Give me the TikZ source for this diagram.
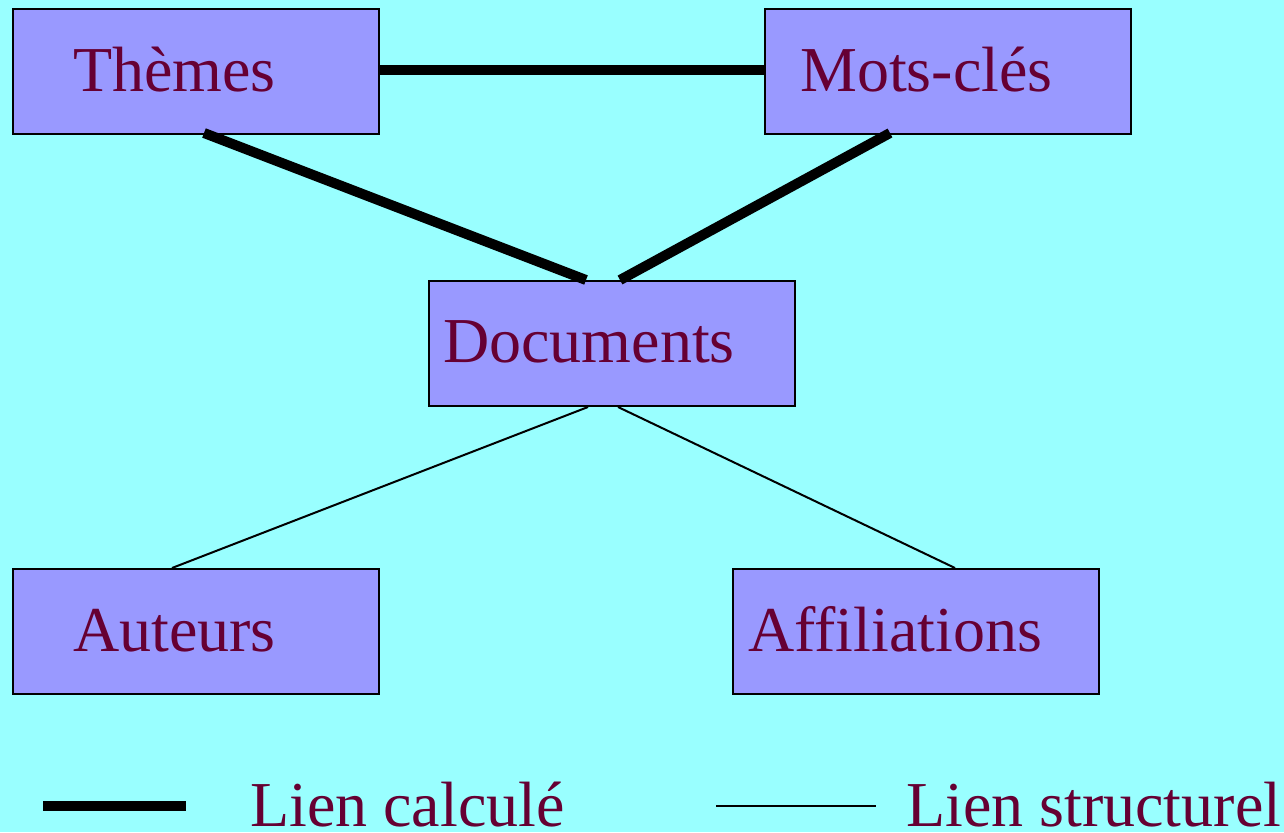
\documentclass[tikz,border=0pt]{standalone}
\usepackage{fontspec}
\setmainfont{Liberation Serif}
\definecolor{bgcyan}{HTML}{99FFFF}
\definecolor{boxblue}{HTML}{9999FF}
\definecolor{textwine}{HTML}{660033}
\begin{document}
\begin{tikzpicture}[x=1pt,y=-1pt,
  entity/.style={draw=black, line width=2pt, fill=boxblue, minimum width=366pt,
    minimum height=125pt, inner sep=0pt, anchor=north west},
  lbl/.style={text=textwine, font=\fontsize{64}{70}\selectfont, inner sep=0pt, anchor=base west},
  computed/.style={line width=10pt},
  structural/.style={line width=2pt}]
  % background and page size
  \fill[bgcyan] (0,0) rectangle (1284,832);
  \useasboundingbox (0,0) rectangle (1284,832);

  % entity boxes
  \node[entity] (themes) at (12,8) {};
  \node[entity] (mots) at (764,8) {};
  \node[entity] (docs) at (428,280) {};
  \node[entity] (auteurs) at (12,568) {};
  \node[entity] (affil) at (732,568) {};

  % entity names
  \node[lbl] (themesT) at ([xshift=61pt,yshift=-84pt]themes.north west) {Thèmes};
  \node[lbl] (motsT) at ([xshift=36pt,yshift=-84pt]mots.north west) {Mots-clés};
  \node[lbl] (docsT) at ([xshift=15pt,yshift=-82pt]docs.north west) {Documents};
  \node[lbl] (auteursT) at ([xshift=61pt,yshift=-83pt]auteurs.north west) {Auteurs};
  \node[lbl] (affilT) at ([xshift=16pt,yshift=-83pt]affil.north west) {Affiliations};

  % computed links
  \draw[computed] ([yshift=-62pt]themes.north east) -- ([yshift=-62pt]mots.north west);
  \draw[computed] ([xshift=192pt,yshift=2pt]themes.south west) -- ([xshift=158pt]docs.north west);
  \draw[computed] ([xshift=126pt,yshift=2pt]mots.south west) -- ([xshift=192pt]docs.north west);

  % structural links
  \draw[structural] ([xshift=160pt]docs.south west) -- ([xshift=160pt]auteurs.north west);
  \draw[structural] ([xshift=190pt]docs.south west) -- ([xshift=223pt]affil.north west);

  % legend
  \coordinate (lgA1) at (43,806);
  \coordinate (lgA2) at (186,806);
  \coordinate (lgB1) at (716,806);
  \coordinate (lgB2) at (876,806);
  \draw[computed] (lgA1) -- (lgA2);
  \draw[structural] (lgB1) -- (lgB2);
  \node[lbl] (lgAT) at (250,826) {Lien calculé};
  \node[lbl] (lgBT) at (906,826) {Lien structurel};
\end{tikzpicture}
\end{document}
